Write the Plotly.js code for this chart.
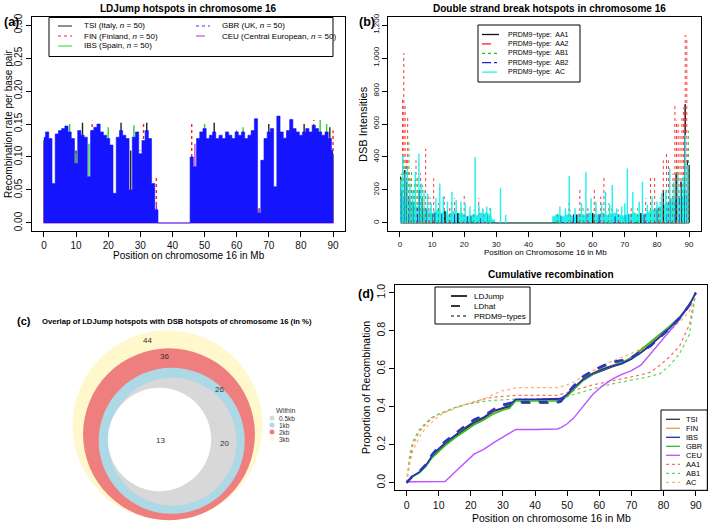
<!DOCTYPE html>
<html><head><meta charset="utf-8">
<script src="https://cdn.plot.ly/plotly-3.0.1.min.js"></script>
<style>html,body{margin:0;padding:0;background:#fff}#chart{width:709px;height:526px}</style>
</head><body><div id="chart"></div>
<script>
// ================= DATA =================
// Panel (a): LDJump recombination rate per Mb bin
const POS_A = [0,1,2,3,4,5,6,7,8,9,10,11,12,13,14,15,16,17,18,19,20,21,22,23,24,25,26,27,28,29,30,31,32,33,34,35,36,37,38,39,40,41,42,43,44,45,46,47,48,49,50,51,52,53,54,55,56,57,58,59,60,61,62,63,64,65,66,67,68,69,70,71,72,73,74,75,76,77,78,79,80,81,82,83,84,85,86,87,88,89,90];
const TSI_A = [0.125,0.13,0.12,0.03,0.128,0.13,0.135,0.14,0.13,0.125,0.11,0.13,0.152,0.125,0.04,0.13,0.135,0.14,0.13,0.128,0.125,0.11,0.03,0.125,0.152,0.128,0.12,0.11,0.125,0.13,0.10,0.12,0.152,0.125,0.04,0.01,
  0,0,0,0,0,0,0,0,0,0,
  0.09,0.08,0.12,0.13,0.135,0.125,0.13,0.152,0.125,0.13,0.125,0.13,0.128,0.125,0.13,0.128,0.13,0.125,0.13,0.135,0.13,0.02,0.09,0.125,0.15,0.135,0.04,0.14,0.13,0.125,0.135,0.14,0.135,0.13,0.128,0.15,0.135,0.13,0.14,0.135,0.13,0.128,0.13,0.145,0.105];
const FIN_A = [0.128,0.132,0.125,0.035,0.13,0.135,0.138,0.14,0.132,0.126,0.10,0.135,0.13,0.128,0.05,0.155,0.14,0.154,0.132,0.13,0.126,0.115,0.035,0.128,0.135,0.13,0.125,0.04,0.128,0.133,0.11,0.153,0.135,0.126,0.05,0.07,
  0,0,0,0,0,0,0,0,0,0,
  0.15,0.09,0.125,0.133,0.138,0.126,0.13,0.135,0.126,0.13,0.126,0.135,0.13,0.126,0.135,0.13,0.135,0.126,0.13,0.138,0.148,0.025,0.10,0.126,0.135,0.14,0.045,0.145,0.135,0.126,0.138,0.145,0.14,0.135,0.13,0.135,0.14,0.135,0.156,0.14,0.135,0.13,0.135,0.13,0.14];
const IBS_A = [0.126,0.13,0.126,0.04,0.13,0.134,0.136,0.14,0.15,0.125,0.105,0.134,0.13,0.126,0.12,0.134,0.14,0.145,0.134,0.13,0.145,0.115,0.04,0.126,0.136,0.13,0.125,0.045,0.148,0.134,0.105,0.12,0.136,0.125,0.045,0.015,
  0,0,0,0,0,0,0,0,0,0,
  0.095,0.085,0.126,0.134,0.15,0.126,0.13,0.134,0.126,0.13,0.126,0.134,0.13,0.126,0.134,0.13,0.145,0.126,0.13,0.136,0.13,0.02,0.095,0.126,0.136,0.14,0.05,0.14,0.136,0.126,0.136,0.145,0.14,0.136,0.13,0.136,0.14,0.136,0.145,0.14,0.156,0.13,0.15,0.126,0.105];
const GBR_A = [0.130,0.138,0.128,0.060,0.135,0.140,0.143,0.147,0.138,0.128,0.090,0.140,0.133,0.130,0.070,0.140,0.145,0.150,0.138,0.133,0.128,0.118,0.045,0.130,0.140,0.133,0.128,0.050,0.130,0.138,0.105,0.125,0.140,0.128,0.060,0.020,
  0,0,0,0,0,0,0,0,0,0,
  0.100,0.085,0.128,0.138,0.143,0.128,0.133,0.138,0.128,0.133,0.128,0.138,0.133,0.128,0.138,0.133,0.138,0.128,0.133,0.140,0.158,0.015,0.095,0.128,0.138,0.143,0.055,0.162,0.138,0.128,0.140,0.157,0.143,0.138,0.133,0.138,0.143,0.138,0.148,0.143,0.138,0.133,0.138,0.128,0.110];
const CEU_A = [0.12,0.125,0.12,0.03,0.125,0.13,0.13,0.135,0.125,0.12,0.09,0.13,0.125,0.12,0.04,0.13,0.135,0.14,0.13,0.125,0.12,0.11,0.03,0.12,0.13,0.125,0.12,0.04,0.12,0.13,0.10,0.115,0.13,0.12,0.05,0.03,
  0,0,0,0,0,0,0,0,0,0,
  0.09,0.12,0.12,0.13,0.135,0.12,0.125,0.13,0.12,0.125,0.12,0.13,0.125,0.12,0.14,0.125,0.13,0.12,0.125,0.13,0.125,0.02,0.09,0.12,0.13,0.135,0.05,0.135,0.13,0.13,0.13,0.14,0.135,0.13,0.125,0.13,0.135,0.13,0.14,0.135,0.13,0.125,0.13,0.12,0.10];

// Panel (b): DSB intensities
const POS_B = POS_A;
const AC_BASE_B = [150,140,120,130,110,100,90,80,90,70,60,70,80,60,70,50,60,70,55,60,50,40,45,50,45,60,55,60,40,20,0,0,0,0,
  0,0,0,0,0,0,0,0,0,0,0,0,0,0,
  40,50,45,40,50,45,40,50,55,45,50,60,50,45,55,60,50,45,55,60,50,45,40,50,55,60,50,45,55,60,70,80,90,100,110,120,130,150,140,160,150,170,180];
const AC_POS = [0.3,0.9,1.6,2.3,3.1,4.0,4.8,5.9,6.6,7.5,8.6,9.7,11.2,12.4,13.5,14.8,16.2,17.5,19.0,20.3,21.8,23.4,24.6,25.8,27.0,28.2,31.3,32.9,49.8,51.5,52.7,54.5,56.5,57.9,59.5,61.0,62.8,64.0,65.3,66.1,67.5,69.0,70.0,70.8,72.5,74.5,75.5,77.0,78.5,80.0,81.5,82.8,84.0,85.3,86.5,87.3,88.2,88.9,89.6];
const AC_VAL = [260,410,300,330,240,200,310,420,240,200,180,120,150,240,160,130,190,140,130,120,100,400,110,90,100,90,210,50,100,90,285,90,120,307,150,130,120,190,110,230,90,100,120,330,190,130,250,110,160,130,180,200,330,250,300,220,280,535,350];
const AA2_POS = [0.3,0.8,1.2,1.6,2.0,2.4,2.8,3.4,4.2,5.0,5.8,6.4,7.0,8.0,9.0,10.5,12.0,13.8,15.5,17.0,20.0,24.5,26.0,52.6,54.0,56.0,58.5,60.5,62.5,63.5,66.0,68.0,72.0,76.5,78.0,79.3,80.5,82.0,83.0,83.6,85.0,85.6,86.1,86.6,87.2,87.8,88.3,88.8,89.3,89.7];
const AA2_VAL = [290,760,1030,720,400,650,310,270,200,380,160,300,120,450,160,270,100,160,110,150,180,150,80,120,60,200,90,200,160,280,100,80,90,150,290,280,100,380,420,380,300,720,620,600,530,640,700,1140,1130,450];
const AA1_POS = [0.2,0.6,1.5,2.2,3.0,4.0,6.0,6.8,8.5,11,14,18,22,27,50,55,60,64,70,75,80,82,84,86,87.5,88.8,89.5,90];
const AA1_VAL = [280,200,320,250,150,130,200,150,80,60,70,60,40,50,40,50,60,80,50,60,80,200,150,300,250,720,380,350];
const AB1_POS = [0.4,1.0,1.8,2.8,3.6,4.5,5.5,7.0,9.5,12,16,19,23,28,49,53,57,61,65,69,74,78,81,83,85,86.5,88,89.8];
const AB1_VAL = [300,400,350,500,330,260,280,230,150,120,130,100,80,90,60,80,100,90,120,80,100,120,150,200,250,350,300,560];
const AB2_POS = [0.5,1.3,2.5,4,5.5,7.5,10,13,17,21,25,50,54,58,62,67,71,76,80,83,85.5,87,88.5,89.5];
const AB2_VAL = [200,150,180,120,100,90,70,60,50,40,30,40,50,60,50,40,60,50,80,100,120,150,200,180];

// Panel (c): overlap (%) of LDJump hotspots with DSB hotspots
const RING_VALUES = [44, 36, 26, 20, 13];
const WITHIN_LABELS = ['0.5kb', '1kb', '2kb', '3kb'];

// Panel (d): cumulative recombination
const POS_D = [0,1,2,4,6,8,10,12,15,18,21,24,27,30,32,33,34,40,47,48,50,52,55,58,61,64,67,70,73,76,79,82,85,88,90];
const TSI_D = [0,0.02,0.035,0.055,0.09,0.14,0.175,0.205,0.245,0.28,0.315,0.34,0.375,0.392,0.40,0.42,0.437,0.437,0.437,0.44,0.462,0.495,0.54,0.57,0.592,0.61,0.625,0.65,0.685,0.725,0.77,0.815,0.87,0.935,1.0];
const FIN_D = [0,0.02,0.034,0.054,0.088,0.137,0.17,0.2,0.24,0.275,0.31,0.336,0.37,0.388,0.397,0.418,0.435,0.435,0.435,0.44,0.465,0.5,0.548,0.578,0.6,0.617,0.632,0.66,0.695,0.735,0.78,0.82,0.87,0.935,1.0];
const IBS_D = [0,0.021,0.036,0.057,0.092,0.143,0.18,0.21,0.25,0.287,0.322,0.345,0.378,0.396,0.405,0.425,0.44,0.44,0.44,0.443,0.465,0.5,0.545,0.575,0.597,0.615,0.628,0.652,0.685,0.722,0.77,0.815,0.868,0.935,1.0];
const GBR_D = [0,0.018,0.032,0.052,0.085,0.132,0.165,0.195,0.235,0.27,0.305,0.33,0.362,0.383,0.392,0.412,0.43,0.43,0.43,0.435,0.455,0.49,0.538,0.57,0.595,0.615,0.63,0.66,0.7,0.74,0.785,0.825,0.872,0.935,1.0];
const CEU_D = [0,0.005,0.005,0.005,0.005,0.005,0.005,0.006,0.055,0.10,0.15,0.175,0.21,0.24,0.26,0.27,0.28,0.28,0.283,0.29,0.31,0.34,0.40,0.465,0.51,0.545,0.57,0.59,0.62,0.68,0.745,0.80,0.86,0.93,1.0];
const IBS_HAT_D = [0,0.022,0.038,0.06,0.096,0.15,0.187,0.217,0.258,0.297,0.332,0.352,0.385,0.41,0.418,0.425,0.425,0.425,0.425,0.43,0.47,0.51,0.56,0.59,0.615,0.635,0.645,0.66,0.69,0.722,0.77,0.815,0.868,0.935,1.0];
const GBR_HAT_D = [0,0.02,0.036,0.058,0.093,0.146,0.182,0.212,0.252,0.292,0.327,0.348,0.38,0.405,0.413,0.42,0.42,0.42,0.42,0.425,0.465,0.505,0.555,0.585,0.61,0.63,0.64,0.655,0.685,0.718,0.765,0.81,0.864,0.932,1.0];
const AA1_D = [0,0.12,0.2,0.27,0.31,0.34,0.36,0.375,0.395,0.41,0.425,0.44,0.45,0.455,0.457,0.458,0.46,0.46,0.46,0.465,0.475,0.485,0.5,0.515,0.525,0.535,0.548,0.558,0.568,0.582,0.62,0.665,0.72,0.83,1.0];
const AB1_D = [0,0.15,0.22,0.28,0.315,0.345,0.36,0.375,0.395,0.41,0.42,0.428,0.433,0.437,0.44,0.44,0.44,0.44,0.44,0.445,0.455,0.465,0.48,0.495,0.508,0.52,0.53,0.54,0.55,0.56,0.575,0.62,0.68,0.78,1.0];
const AC_D = [0,0.1,0.17,0.24,0.29,0.32,0.35,0.37,0.39,0.41,0.425,0.44,0.465,0.485,0.49,0.495,0.5,0.5,0.5,0.505,0.515,0.53,0.56,0.59,0.615,0.64,0.66,0.68,0.705,0.735,0.765,0.8,0.845,0.9,1.0];

// Tick labels
const TICKS_X = [0,10,20,30,40,50,60,70,80,90];
const TICKS_A_Y = [0,0.05,0.10,0.15,0.20,0.25,0.30];
const TICKTEXT_A_Y = ['0.00','0.05','0.10','0.15','0.20','0.25','0.30'];
const TICKS_B_Y = [0,200,400,600,800,1000,1200];
const TICKTEXT_B_Y = ['0','200','400','600','800','1,000','1,200'];
const TICKS_D_Y = [0,0.2,0.4,0.6,0.8,1.0];
const TICKTEXT_D_Y = ['0.0','0.2','0.4','0.6','0.8','1.0'];

// ================= LAYOUT / STYLE =================
const W = 709, H = 526;
const FONT = 'Liberation Sans, Arial, Helvetica, sans-serif';
const px = v => v / W;
const py = v => 1 - v / H;

function comb(xs, ys, continuous) {
  const x = [], y = [];
  xs.forEach((p, i) => {
    if (continuous) { x.push(p, p, p); y.push(0, ys[i], 0); }
    else { x.push(p, p, null); y.push(0, ys[i], null); }
  });
  return {x, y};
}
function combTrace(xs, ys, color, width, dash, xa, ya, continuous) {
  const c = comb(xs, ys, continuous);
  return {type:'scatter', mode:'lines', x:c.x, y:c.y, xaxis:xa, yaxis:ya,
    line:{color, width, dash: dash || 'solid'}, hoverinfo:'skip', connectgaps:false};
}
function stepFill(xs, ys, color, xa, ya) {
  return {type:'scatter', mode:'lines', x:xs, y:ys, xaxis:xa, yaxis:ya, fill:'tozeroy',
    fillcolor:color, line:{color, width:0.6, shape:'hvh'}, hoverinfo:'skip'};
}

const traces = [];
// (a)
traces.push(combTrace(POS_A, TSI_A, '#222222', 1.4, 'solid', 'x', 'y'));
traces.push(combTrace(POS_A, FIN_A, '#FF2020', 1.4, 'dot', 'x', 'y'));
traces.push(combTrace(POS_A, IBS_A, '#33CC33', 1.4, 'solid', 'x', 'y'));
traces.push(combTrace(POS_A, CEU_A, '#B030E0', 1.2, 'solid', 'x', 'y', true));
traces.push(stepFill(POS_A, GBR_A, '#1414FF', 'x', 'y'));
// (b)
traces.push(stepFill(POS_B, AC_BASE_B, '#22EEEE', 'x2', 'y2'));
traces.push(combTrace(AA1_POS, AA1_VAL, '#111111', 1, 'solid', 'x2', 'y2', true));
traces.push(combTrace(AA2_POS, AA2_VAL, '#FF2020', 0.9, 'dot', 'x2', 'y2'));
traces.push(combTrace(AB1_POS, AB1_VAL, '#22BB22', 0.9, 'dot', 'x2', 'y2'));
traces.push(combTrace(AB2_POS, AB2_VAL, '#2222CC', 0.9, 'dashdot', 'x2', 'y2'));
traces.push(combTrace(AC_POS, AC_VAL, '#22EEEE', 1.4, 'solid', 'x2', 'y2'));
// (c) nested circles, area proportional to value
const RING_COLORS = ['#FFF8CC', '#EF7F7F', '#ADD8E6', '#D8D8D8', '#FFFFFF'];
const RING_CX = [167.5, 169, 171.7, 172.5, 159.5];
const RING_CY = [425.3, 434.3, 440.8, 441.7, 439.5];
const R_MAX = 95;
traces.push({type:'scatter', mode:'markers', x:RING_CX, y:RING_CY, xaxis:'x3', yaxis:'y3',
  cliponaxis:false, hoverinfo:'skip',
  marker:{size:RING_VALUES, sizemode:'area', sizeref: Math.max(...RING_VALUES)/2/(R_MAX*R_MAX),
    color:RING_COLORS, opacity:1, line:{width:0}}});
// (d)
function lineD(ys, color, width, dash) {
  return {type:'scatter', mode:'lines', x:POS_D, y:ys, xaxis:'x4', yaxis:'y4',
    line:{color, width, dash}, hoverinfo:'skip'};
}
traces.push(lineD(AA1_D, '#FF6A6A', 1.2, 'dot'));
traces.push(lineD(AB1_D, '#55DD55', 1.2, 'dot'));
traces.push(lineD(AC_D, '#FFB060', 1.2, 'dot'));
traces.push(lineD(CEU_D, '#BB55FF', 1.4, 'solid'));
traces.push(lineD(FIN_D, '#F0A030', 1.4, 'solid'));
traces.push(lineD(TSI_D, '#333333', 1.4, 'solid'));
traces.push(lineD(GBR_D, '#33BB33', 1.6, 'solid'));
traces.push(lineD(IBS_D, '#2828C8', 1.4, 'solid'));
traces.push(lineD(GBR_HAT_D, '#228822', 2, 'dash'));
traces.push(lineD(IBS_HAT_D, '#3030D0', 2.4, 'dash'));

function axis(dom, range, tickvals, ticktext, size, anchor, angle) {
  return {domain:dom, range, tickmode:'array', tickvals, ticktext, ticks:'outside', ticklen:5,
    tickwidth:1, tickcolor:'#000', showline:true, mirror:true, linecolor:'#000', linewidth:1,
    showgrid:false, zeroline:false, tickfont:{family:FONT, size, color:'#111'}, anchor,
    tickangle: angle || 0, fixedrange:true};
}
const layout = {
  width:W, height:H, margin:{l:0,r:0,t:0,b:0}, paper_bgcolor:'#fff', plot_bgcolor:'rgba(0,0,0,0)',
  showlegend:false, font:{family:FONT, color:'#000'},
  xaxis:  axis([px(32.4), px(344.6)], [-3.6, 93.6], TICKS_X, TICKS_X.map(String), 10, 'y'),
  yaxis:  axis([py(230.9), py(17.1)], [-0.012, 0.312], TICKS_A_Y, TICKTEXT_A_Y, 10, 'x', -90),
  xaxis2: axis([px(388.4), px(700.6)], [-3.6, 93.6], TICKS_X, TICKS_X.map(String), 8, 'y2'),
  yaxis2: axis([py(230.9), py(17.1)], [-48, 1248], TICKS_B_Y, TICKTEXT_B_Y, 8, 'x2', -90),
  xaxis3: {domain:[0, 0.5], range:[0, 0.5*W], visible:false, fixedrange:true, anchor:'y3'},
  yaxis3: {domain:[0, 0.43], range:[H, H - 0.43*H], visible:false, fixedrange:true, anchor:'x3'},
  xaxis4: axis([px(395), px(707.3)], [-3.6, 93.6], TICKS_X, TICKS_X.map(String), 10.5, 'y4'),
  yaxis4: axis([py(490.3), py(285.1)], [-0.04, 1.04], TICKS_D_Y, TICKTEXT_D_Y, 10.5, 'x4', -90),
  annotations: [], shapes: []
};

function ann(text, x, y, size, o) {
  o = o || {};
  layout.annotations.push(Object.assign({text, x:px(x), y:py(y), xref:'paper', yref:'paper',
    showarrow:false, xanchor:'center', yanchor:'middle',
    font:{family:FONT, size, color:o.color || '#000'}}, o.extra || {}));
}
function rect(x0, y0, x1, y1) {
  layout.shapes.push({type:'rect', xref:'paper', yref:'paper', x0:px(x0), x1:px(x1), y0:py(y0), y1:py(y1),
    line:{color:'#000', width:1}, fillcolor:'#fff', layer:'above'});
}
function seg(x0, x1, y, color, dash, width) {
  layout.shapes.push({type:'line', xref:'paper', yref:'paper', x0:px(x0), x1:px(x1), y0:py(y), y1:py(y),
    line:{color, dash, width}, layer:'above'});
}

// Panel labels and titles
ann('<b>(a)</b>', 11, 22, 12.5);
ann('<b>(b)</b>', 367, 22, 12.5);
ann('<b>(c)</b>', 24, 321, 11);
ann('<b>(d)</b>', 366, 294, 12.5);
ann('<b>LDJump hotspots in chromosome 16</b>', 189, 8, 10);
ann('<b>Double strand break hotspots in chromosome 16</b>', 549, 8, 10);
ann('<b>Cumulative recombination</b>', 551, 274, 10);
ann('<b>Overlap of LDJump hotspots with DSB hotspots of chromosome 16 (in %)</b>', 40, 321, 7.7, {extra:{xanchor:'left'}});
// Axis titles
ann('Position on chromosome 16 in Mb', 189, 256, 10);
ann('Recombination rate per base pair', 8, 124, 10, {extra:{textangle:-90}});
ann('Position on Chromosome 16 in Mb', 545, 253, 8);
ann('DSB Intensities', 363, 124, 11, {extra:{textangle:-90}});
ann('Position on chromosome 16 in Mb', 551, 518, 10.5);
ann('Proportion of Recombination', 366, 388, 10.5, {extra:{textangle:-90}});

// Legend (a)
rect(49, 17.5, 333, 56.5);
const legA = [
  ['TSI (Italy, <i>n</i> = 50)', '#222', 'solid', 58, 26],
  ['FIN (Finland, <i>n</i> = 50)', '#FF2020', 'dot', 58, 36],
  ['IBS (Spain, <i>n</i> = 50)', '#33CC33', 'solid', 58, 46],
  ['GBR (UK, <i>n</i> = 50)', '#3030FF', 'dot', 196, 26],
  ['CEU (Central European, <i>n</i> = 50)', '#B030E0', 'dash', 196, 36]
];
legA.forEach(([t, c, d, x, y]) => {
  seg(x, x + 14, y, c, d, 1);
  ann(t, x + 24, y, 8, {extra:{xanchor:'left'}});
});

// Legend (b)
rect(478, 25, 580, 82);
const legB = [
  ['PRDM9−type:  AA1', '#111', 'solid'],
  ['PRDM9−type:  AA2', '#FF2020', 'dash'],
  ['PRDM9−type:  AB1', '#22BB22', 'dot'],
  ['PRDM9−type:  AB2', '#2222CC', 'dashdot'],
  ['PRDM9−type:  AC', '#22EEEE', 'longdash']
];
legB.forEach(([t, c, d], i) => {
  const y = 34.5 + i * 9.4;
  seg(482, 499, y, c, d, 1.3);
  ann(t, 506, y, 7, {extra:{xanchor:'left'}});
});

// Legend (d) top
rect(435, 287, 530, 324);
[['LDJump', 'solid', 1.6], ['LDhat', 'dash', 1.6], ['PRDM9−types', 'dot', 1.2]].forEach(([t, d, w], i) => {
  const y = 296 + i * 10;
  seg(451, 467, y, '#000', d, w);
  ann(t, 472, y, 8, {extra:{xanchor:'left'}});
});
// Legend (d) right
rect(661, 410, 707.3, 490.3);
[['TSI', '#333333', 'solid'], ['FIN', '#F0A030', 'solid'], ['IBS', '#2828C8', 'solid'], ['GBR', '#33BB33', 'solid'],
 ['CEU', '#BB55FF', 'solid'], ['AA1', '#FF6A6A', 'dot'], ['AB1', '#55DD55', 'dot'], ['AC', '#FFB060', 'dot']].forEach(([t, c, d], i) => {
  const y = 419.3 + i * 9;
  seg(666, 680, y, c, d, 1.3);
  ann(t, 684, y, 7.5, {extra:{xanchor:'left'}});
});

// Panel (c) value labels and legend
const RING_LABEL_X = [147.3, 164, 219, 224, 160];
const RING_LABEL_Y = [340.3, 356.3, 389.7, 443.7, 440.3];
RING_VALUES.forEach((v, i) => ann(String(v), RING_LABEL_X[i], RING_LABEL_Y[i], 8, {color:'#333'}));
ann('Within', 274, 410.5, 7, {color:'#333', extra:{xanchor:'left'}});
const WITHIN_COLORS = ['#D8D8D8', '#ADD8E6', '#EF7F7F', '#FFF8CC'];
WITHIN_LABELS.forEach((t, i) => {
  const y = 418 + i * 7;
  layout.shapes.push({type:'circle', xref:'paper', yref:'paper', x0:px(269.5), x1:px(274.5), y0:py(y - 2.5), y1:py(y + 2.5),
    fillcolor:WITHIN_COLORS[i], line:{width:0}});
  ann(t, 276.5, y, 6.5, {color:'#333', extra:{xanchor:'left'}});
});

Plotly.newPlot('chart', traces, layout, {displayModeBar:false, staticPlot:true});
</script>
</body></html>
